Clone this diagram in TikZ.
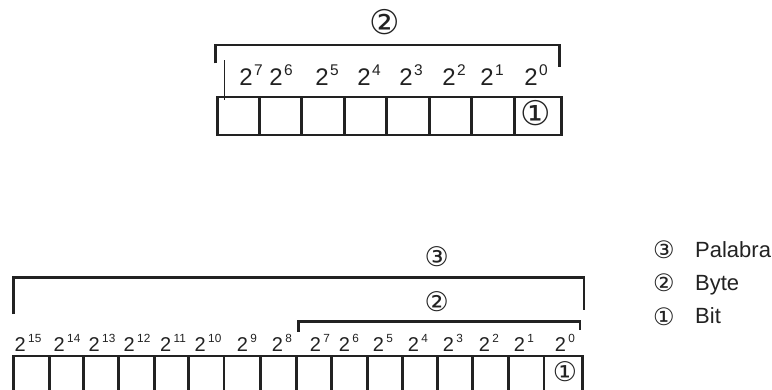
\documentclass[tikz,border=0pt]{standalone}
\usepackage{fontspec}
\setmainfont{Liberation Sans}
\newfontfamily\circfont{DejaVu Sans}
\definecolor{ink}{HTML}{222222}
\newcommand\pwa[1]{2\kern0.06em\raisebox{0.4em}{\fontsize{15.5}{15}\selectfont #1}}
\newcommand\pwb[1]{2\kern0.12em\raisebox{0.41em}{\fontsize{11.8}{12}\selectfont #1}}
\tikzset{
  cell/.style={draw=ink, line width=2.8pt, inner sep=0pt, outer sep=0pt},
  brk/.style={draw=ink, line width=2.5pt, line cap=butt},
  lblA/.style={anchor=base, inner sep=0pt, text=ink, font=\fontsize{24}{24}\selectfont},
  lblB/.style={anchor=base, inner sep=0pt, text=ink, font=\fontsize{20}{20}\selectfont},
  circA/.style={inner sep=0pt, text=ink, font=\circfont\fontsize{34}{34}\selectfont},
  circB/.style={inner sep=0pt, text=ink, font=\circfont\fontsize{27}{27}\selectfont},
  circL/.style={inner sep=0pt, text=ink, font=\circfont\fontsize{24}{24}\selectfont},
  legtxt/.style={anchor=base west, inner sep=0pt, text=ink, font=\fontsize{22}{22}\selectfont},
}
\begin{document}
\begin{tikzpicture}[x=1pt,y=-1pt]
\useasboundingbox (0,0) rectangle (772,389);
\clip (0,0) rectangle (772,389);
\fill[white] (0,0) rectangle (772,389);

% ---- top byte ----
\foreach \a/\b [count=\i] in {217.3/259.3,259.3/301.7,301.7/344.3,344.3/386.7,386.7/429.3,429.3/471.7,471.7/514.3,514.3/561.7}{
  \pgfmathsetmacro\w{\b-\a}
  \pgfmathsetmacro\m{(\a+\b)/2}
  \node[cell, minimum width=\w pt, minimum height=38pt] (tc\i) at (\m,116) {};
}
\node[circA] (tbit) at (535.7,113.3) {①};
\draw[brk] (215.7,63.3) |- (559.3,45) -- (559.3,66.7);
\draw[draw=ink, line width=1.3pt] (224.3,60) -- (224.3,100);
\node[circA] (tbyte) at (385,21.7) {②};

\foreach \x/\e in {251/7,281/6,327/5,369/4,411/3,454/2,492/1,536/0}{
  \node[lblA] (te\e) at (\x,85) {\pwa{\e}};
}

% ---- bottom word ----
\foreach \a/\b [count=\i] in {13.7/49.3,49.3/83.3,83.3/118.3,118.3/154.3,154.3/188.3,188.3/224,224/260.7,260.7/296.7,296.7/331.7,331.7/367.3,367.3/402.7,402.7/437.7,437.7/472.7,472.7/508.3,508.3/544,544/582.7}{
  \pgfmathsetmacro\w{\b-\a}
  \pgfmathsetmacro\m{(\a+\b)/2}
  \node[cell, minimum width=\w pt, minimum height=48pt] (bc\i) at (\m,380) {};
}
\node[circB] (bbit) at (565,371.7) {①};

\draw[brk] (13.7,314) |- (584,277.3) -- (584,310);
\node[circB] (bword) at (436.7,256.7) {③};
\draw[brk] (298.3,331.7) |- (580,321.7) -- (580,330);
\node[circB] (bbyte) at (436.7,301.7) {②};

\foreach \x/\e in {28/15,67/14,102/13,137/12,173/11,208/10,247/9,282/8,320/7,349/6,383/5,418/4,453/3,489/2,524/1,565/0}{
  \node[lblB] (be\e) at (\x,351) {\pwb{\e}};
}

% ---- legend ----
\node[circL] (l3) at (664,250) {③};
\node[circL] (l2) at (664,283) {②};
\node[circL] (l1) at (664,317) {①};
\node[legtxt] (t3) at (695,257) {Palabra};
\node[legtxt] (t2) at (695,290) {Byte};
\node[legtxt] (t1) at (695,323) {Bit};
\end{tikzpicture}
\end{document}
